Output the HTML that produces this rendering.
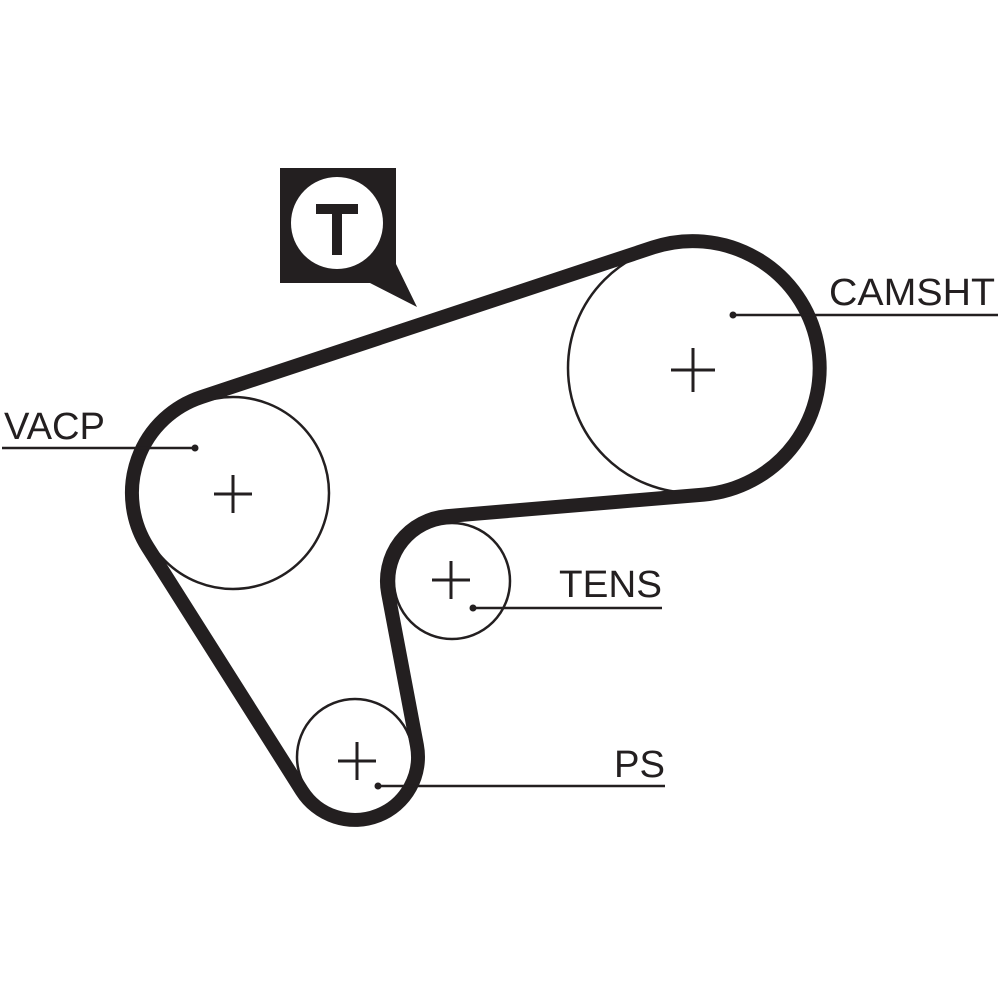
<!DOCTYPE html>
<html><head><meta charset="utf-8"><style>
html,body{margin:0;padding:0;background:#fff;}
svg{display:block;}
text{font-family:"Liberation Sans",sans-serif;fill:#231f20;}
</style></head><body>
<svg id="s" width="1000" height="1000" viewBox="0 0 1000 1000" xmlns="http://www.w3.org/2000/svg">
<g fill="#fff" stroke="#231f20" stroke-width="2.5">
<circle cx="693" cy="368" r="125"/>
<circle cx="233" cy="493" r="96"/>
<circle cx="452" cy="581" r="58"/>
<circle cx="355" cy="757" r="58"/>
</g>
<g stroke="#231f20" stroke-width="3">
<path d="M671 370h44M693 348v44"/>
<path d="M214 494h38M233 475v38"/>
<path d="M432 580h38M451 561v38"/>
<path d="M338 761h38M357 742v38"/>
</g>
<path id="belt" d="" fill="none" stroke="#231f20" stroke-width="14" stroke-linejoin="round"/>
<g stroke="#231f20" stroke-width="2.5">
<line x1="733" y1="315" x2="998" y2="315"/>
<line x1="2" y1="448" x2="195" y2="448"/>
<line x1="473" y1="608" x2="662" y2="608"/>
<line x1="378" y1="786" x2="665" y2="786"/>
</g>
<g fill="#231f20">
<circle cx="733" cy="315" r="3.5"/>
<circle cx="195" cy="448" r="3.5"/>
<circle cx="473" cy="608" r="3.5"/>
<circle cx="378" cy="786" r="3.5"/>
</g>
<text x="829" y="305" font-size="38" textLength="166" lengthAdjust="spacingAndGlyphs">CAMSHT</text>
<text x="4" y="439" font-size="38" textLength="101" lengthAdjust="spacingAndGlyphs">VACP</text>
<text x="559" y="597" font-size="38" textLength="103" lengthAdjust="spacingAndGlyphs">TENS</text>
<text x="614" y="777" font-size="38" textLength="51" lengthAdjust="spacingAndGlyphs">PS</text>
<path d="M280 168H396V264L417 307L370 283H280Z" fill="#231f20"/>
<circle cx="337" cy="223" r="46" fill="#fff"/>
<path d="M316 204H358V214H342V255H332V214H316Z" fill="#231f20"/>
</svg>
<script>
(function(){
 var C=[
  {x:233,y:493,r:101},
  {x:693,y:368,r:127},
  {x:452,y:581,r:-65},
  {x:355,y:757,r:63}
 ];
 function tan(a,b){
  var dx=b.x-a.x,dy=b.y-a.y,L=Math.hypot(dx,dy),ux=dx/L,uy=dy/L;
  var k=(a.r-b.r)/L,h=Math.sqrt(Math.max(0,1-k*k));
  var best=null;
  [1,-1].forEach(function(s){
   var nx=ux*k-uy*h*s, ny=uy*k+ux*h*s;
   var tx=-ny,ty=nx;
   var p1={x:a.x+a.r*nx,y:a.y+a.r*ny},p2={x:b.x+b.r*nx,y:b.y+b.r*ny};
   var dot=tx*(p2.x-p1.x)+ty*(p2.y-p1.y);
   if(!best||dot>best.d)best={d:dot,p1:p1,p2:p2};
  });
  return best;
 }
 var n=C.length,T=[];
 for(var i=0;i<n;i++)T.push(tan(C[i],C[(i+1)%n]));
 var d="M"+T[0].p1.x.toFixed(1)+" "+T[0].p1.y.toFixed(1);
 for(var i=0;i<n;i++){
  var t=T[i],nx=T[(i+1)%n],c=C[(i+1)%n];
  d+="L"+t.p2.x.toFixed(1)+" "+t.p2.y.toFixed(1);
  var a1=Math.atan2(t.p2.y-c.y,t.p2.x-c.x),a2=Math.atan2(nx.p1.y-c.y,nx.p1.x-c.x);
  var cw=c.r>0,sw;
  if(cw){sw=a2-a1;while(sw<0)sw+=2*Math.PI;}else{sw=a1-a2;while(sw<0)sw+=2*Math.PI;}
  var R=Math.abs(c.r);
  d+="A"+R+" "+R+" 0 "+(sw>Math.PI?1:0)+" "+(cw?1:0)+" "+nx.p1.x.toFixed(1)+" "+nx.p1.y.toFixed(1);
 }
 d+="Z";
 document.getElementById("belt").setAttribute("d",d);
})();
</script>
</body></html>
